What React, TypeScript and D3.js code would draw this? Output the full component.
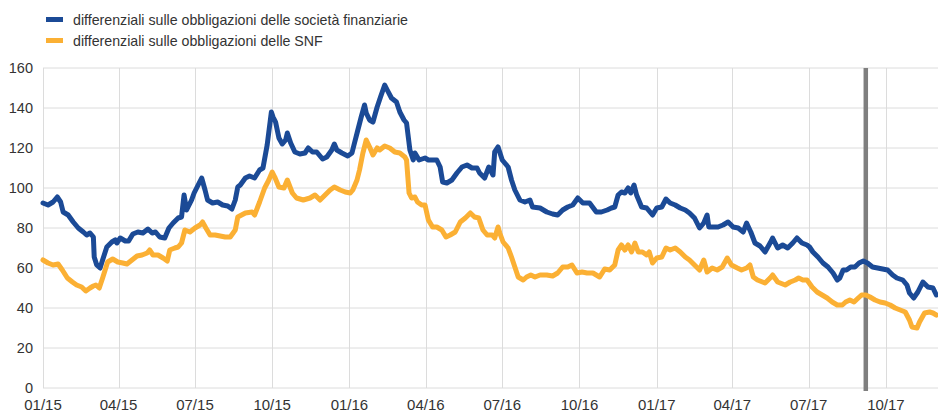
import React from "react";
import * as d3 from "d3";

const legendLabels = [
  "differenziali sulle obbligazioni delle società finanziarie",
  "differenziali sulle obbligazioni delle SNF",
];
const seriesColors = ["#1b4a96", "#fbb034"];
const yTicks = [0, 20, 40, 60, 80, 100, 120, 140, 160];
const xTickDates = [
  "2015-01-01", "2015-04-01", "2015-07-01", "2015-10-01",
  "2016-01-01", "2016-04-01", "2016-07-01", "2016-10-01",
  "2017-01-01", "2017-04-01", "2017-07-01", "2017-10-01",
];
const markerDate = "2017-09-07";
const domainDates = ["2015-01-01", "2017-12-02"];

const financialSpreads: [string, number][] = [
  ["2015-01-01", 92.5], ["2015-01-07", 91.5], ["2015-01-13", 93], ["2015-01-18", 95.5],
  ["2015-01-22", 93], ["2015-01-25", 88], ["2015-01-31", 86.5], ["2015-02-06", 83],
  ["2015-02-12", 80], ["2015-02-18", 78], ["2015-02-22", 76.5], ["2015-02-26", 77.5],
  ["2015-03-02", 75.5], ["2015-03-03", 65.5], ["2015-03-06", 61.5], ["2015-03-10", 60],
  ["2015-03-13", 64], ["2015-03-18", 70.5], ["2015-03-24", 73], ["2015-03-28", 74],
  ["2015-03-30", 72.5], ["2015-04-03", 75], ["2015-04-09", 73.5], ["2015-04-13", 73.5],
  ["2015-04-18", 77], ["2015-04-24", 78], ["2015-04-30", 77.5], ["2015-05-06", 79.5],
  ["2015-05-11", 77.5], ["2015-05-15", 78], ["2015-05-20", 75.5], ["2015-05-26", 75],
  ["2015-05-31", 80], ["2015-06-05", 82.5], ["2015-06-11", 85], ["2015-06-15", 85.5],
  ["2015-06-18", 96.5], ["2015-06-21", 89], ["2015-06-27", 94], ["2015-06-30", 97.5],
  ["2015-07-03", 100], ["2015-07-09", 105], ["2015-07-13", 99], ["2015-07-16", 94],
  ["2015-07-22", 92.5], ["2015-07-28", 93], ["2015-08-03", 91.5], ["2015-08-09", 91],
  ["2015-08-14", 89.5], ["2015-08-18", 94], ["2015-08-21", 100.5], ["2015-08-24", 101.5],
  ["2015-08-30", 105], ["2015-09-04", 106], ["2015-09-10", 105], ["2015-09-16", 109],
  ["2015-09-20", 110], ["2015-09-25", 121.5], ["2015-09-30", 138], ["2015-10-02", 135.5],
  ["2015-10-05", 133], ["2015-10-09", 125], ["2015-10-13", 122], ["2015-10-17", 124],
  ["2015-10-19", 127.5], ["2015-10-23", 122.5], ["2015-10-28", 118], ["2015-11-03", 117],
  ["2015-11-09", 117.5], ["2015-11-13", 120], ["2015-11-18", 118], ["2015-11-23", 118],
  ["2015-11-27", 116], ["2015-11-30", 114.5], ["2015-12-05", 115.5], ["2015-12-11", 119],
  ["2015-12-14", 122], ["2015-12-17", 119], ["2015-12-23", 117.5], ["2015-12-30", 116],
  ["2016-01-04", 117.5], ["2016-01-07", 122.5], ["2016-01-11", 129], ["2016-01-15", 135.5],
  ["2016-01-19", 141.5], ["2016-01-21", 137.5], ["2016-01-25", 134], ["2016-01-29", 133],
  ["2016-02-03", 140.5], ["2016-02-07", 145.5], ["2016-02-12", 151.5], ["2016-02-15", 149],
  ["2016-02-20", 145], ["2016-02-26", 143], ["2016-03-01", 138], ["2016-03-06", 134],
  ["2016-03-09", 132.5], ["2016-03-13", 119], ["2016-03-17", 114], ["2016-03-19", 117.5],
  ["2016-03-24", 114], ["2016-03-31", 115], ["2016-04-04", 114], ["2016-04-09", 114],
  ["2016-04-14", 114], ["2016-04-18", 110.5], ["2016-04-21", 103], ["2016-04-26", 102.5],
  ["2016-05-02", 104], ["2016-05-08", 107.5], ["2016-05-14", 110.5], ["2016-05-20", 111.5],
  ["2016-05-26", 110], ["2016-06-01", 110], ["2016-06-04", 107.5], ["2016-06-10", 105],
  ["2016-06-15", 110.5], ["2016-06-20", 106.5], ["2016-06-22", 118], ["2016-06-26", 120.5],
  ["2016-07-01", 114], ["2016-07-04", 112.5], ["2016-07-08", 110.5], ["2016-07-12", 104],
  ["2016-07-16", 99], ["2016-07-22", 94], ["2016-07-28", 93], ["2016-08-03", 94],
  ["2016-08-06", 90.5], ["2016-08-15", 90], ["2016-08-23", 88], ["2016-08-30", 87],
  ["2016-09-05", 86.5], ["2016-09-11", 89], ["2016-09-17", 90.5], ["2016-09-23", 91.5],
  ["2016-09-29", 95], ["2016-10-05", 92.5], ["2016-10-13", 92.5], ["2016-10-21", 88],
  ["2016-10-27", 88], ["2016-11-03", 89], ["2016-11-08", 90], ["2016-11-12", 90.5],
  ["2016-11-16", 96.5], ["2016-11-20", 98], ["2016-11-24", 97.5], ["2016-11-28", 100],
  ["2016-12-01", 97.5], ["2016-12-05", 101.5], ["2016-12-08", 96.5], ["2016-12-14", 90.5],
  ["2016-12-20", 90], ["2016-12-27", 86.5], ["2017-01-01", 90], ["2017-01-07", 90.5],
  ["2017-01-12", 94.5], ["2017-01-17", 92.5], ["2017-01-23", 91.5], ["2017-01-29", 90],
  ["2017-02-04", 89], ["2017-02-09", 87.5], ["2017-02-15", 85], ["2017-02-21", 80],
  ["2017-02-26", 82.5], ["2017-03-02", 86.5], ["2017-03-04", 80.5], ["2017-03-09", 80.5],
  ["2017-03-15", 80.5], ["2017-03-21", 81.5], ["2017-03-27", 83], ["2017-04-02", 80.5],
  ["2017-04-08", 80], ["2017-04-14", 78], ["2017-04-18", 82.5], ["2017-04-23", 78],
  ["2017-04-28", 72.5], ["2017-05-04", 71], ["2017-05-10", 68], ["2017-05-16", 72.5],
  ["2017-05-19", 75], ["2017-05-25", 70], ["2017-05-31", 71.5], ["2017-06-06", 70],
  ["2017-06-12", 72.5], ["2017-06-17", 75], ["2017-06-23", 72.5], ["2017-06-29", 71.5],
  ["2017-07-02", 70.5], ["2017-07-06", 68], ["2017-07-12", 65.5], ["2017-07-18", 62.5],
  ["2017-07-24", 60.5], ["2017-07-30", 57.5], ["2017-08-04", 54], ["2017-08-07", 55],
  ["2017-08-11", 59], ["2017-08-15", 59], ["2017-08-20", 60.5], ["2017-08-25", 60.5],
  ["2017-08-30", 62.5], ["2017-09-04", 63.5], ["2017-09-09", 62.5], ["2017-09-15", 60.5],
  ["2017-09-21", 60], ["2017-09-27", 59.5], ["2017-10-03", 59], ["2017-10-09", 56.5],
  ["2017-10-14", 55], ["2017-10-21", 54], ["2017-10-26", 51.5], ["2017-10-29", 47.5],
  ["2017-11-03", 45], ["2017-11-08", 48], ["2017-11-14", 53], ["2017-11-20", 50.5],
  ["2017-11-26", 50], ["2017-11-30", 46.5],
];

const nfcSpreads: [string, number][] = [
  ["2015-01-01", 64], ["2015-01-07", 62.5], ["2015-01-13", 61.5], ["2015-01-19", 62],
  ["2015-01-24", 59], ["2015-01-30", 55], ["2015-02-05", 53], ["2015-02-10", 51.5],
  ["2015-02-16", 50.5], ["2015-02-21", 48.5], ["2015-02-26", 50], ["2015-03-02", 51],
  ["2015-03-05", 51.5], ["2015-03-09", 50], ["2015-03-13", 55], ["2015-03-16", 59],
  ["2015-03-19", 63], ["2015-03-25", 64.5], ["2015-03-31", 63], ["2015-04-06", 62.5],
  ["2015-04-11", 62], ["2015-04-17", 64], ["2015-04-23", 66], ["2015-04-29", 66.5],
  ["2015-05-05", 67.5], ["2015-05-08", 69], ["2015-05-12", 66.5], ["2015-05-18", 66.5],
  ["2015-05-24", 65], ["2015-05-29", 63.5], ["2015-06-01", 69], ["2015-06-07", 70],
  ["2015-06-11", 70.5], ["2015-06-15", 72.5], ["2015-06-19", 79], ["2015-06-25", 78],
  ["2015-07-01", 80], ["2015-07-07", 81.5], ["2015-07-10", 83], ["2015-07-14", 80],
  ["2015-07-19", 76.5], ["2015-07-25", 76.5], ["2015-07-31", 76], ["2015-08-06", 75.5],
  ["2015-08-12", 75.5], ["2015-08-18", 79], ["2015-08-21", 85.5], ["2015-08-30", 87.5],
  ["2015-09-07", 88], ["2015-09-10", 86.5], ["2015-09-16", 93], ["2015-09-22", 100],
  ["2015-09-27", 104], ["2015-10-01", 108], ["2015-10-04", 105.5], ["2015-10-09", 100.5],
  ["2015-10-15", 100], ["2015-10-19", 104], ["2015-10-25", 97.5], ["2015-10-30", 95],
  ["2015-11-07", 94], ["2015-11-15", 95], ["2015-11-21", 96.5], ["2015-11-27", 94],
  ["2015-12-03", 96.5], ["2015-12-09", 99], ["2015-12-14", 100.5], ["2015-12-21", 99],
  ["2015-12-27", 98], ["2016-01-02", 97.5], ["2016-01-05", 99], ["2016-01-10", 104],
  ["2016-01-13", 109], ["2016-01-17", 117.5], ["2016-01-21", 124], ["2016-01-25", 120.5],
  ["2016-01-29", 116.5], ["2016-02-03", 120], ["2016-02-06", 119], ["2016-02-12", 121],
  ["2016-02-18", 120], ["2016-02-24", 118], ["2016-03-01", 117.5], ["2016-03-07", 115.5],
  ["2016-03-09", 114], ["2016-03-12", 97.5], ["2016-03-15", 95], ["2016-03-19", 95.5],
  ["2016-03-22", 93], ["2016-03-27", 91.5], ["2016-03-31", 91.5], ["2016-04-04", 84],
  ["2016-04-09", 80.5], ["2016-04-14", 80.5], ["2016-04-20", 79], ["2016-04-25", 75.5],
  ["2016-04-30", 76.5], ["2016-05-06", 78], ["2016-05-12", 83], ["2016-05-18", 85],
  ["2016-05-24", 87.5], ["2016-05-29", 85.5], ["2016-06-03", 85], ["2016-06-08", 79],
  ["2016-06-13", 76.5], ["2016-06-19", 76.5], ["2016-06-22", 75], ["2016-06-26", 80.5],
  ["2016-06-28", 77.5], ["2016-07-02", 73], ["2016-07-08", 70], ["2016-07-12", 65.5],
  ["2016-07-16", 60.5], ["2016-07-20", 55.5], ["2016-07-26", 54], ["2016-07-30", 55.5],
  ["2016-08-04", 56.5], ["2016-08-09", 55.5], ["2016-08-15", 56.5], ["2016-08-23", 56.5],
  ["2016-08-30", 56], ["2016-09-05", 57.5], ["2016-09-11", 60.5], ["2016-09-17", 60.5],
  ["2016-09-22", 61.5], ["2016-09-28", 57.5], ["2016-10-04", 58], ["2016-10-10", 57.5],
  ["2016-10-17", 57.5], ["2016-10-25", 55.5], ["2016-10-31", 59.5], ["2016-11-06", 59],
  ["2016-11-12", 61.5], ["2016-11-16", 69], ["2016-11-20", 71.5], ["2016-11-24", 69],
  ["2016-11-28", 71.5], ["2016-12-02", 68], ["2016-12-06", 72.5], ["2016-12-10", 68],
  ["2016-12-15", 68], ["2016-12-20", 66.5], ["2016-12-23", 68], ["2016-12-27", 62.5],
  ["2017-01-01", 65], ["2017-01-07", 65.5], ["2017-01-12", 70], ["2017-01-17", 69],
  ["2017-01-23", 70], ["2017-01-29", 68], ["2017-02-04", 65.5], ["2017-02-09", 64],
  ["2017-02-15", 61.5], ["2017-02-21", 59], ["2017-02-26", 64], ["2017-03-02", 58],
  ["2017-03-08", 60], ["2017-03-14", 59], ["2017-03-20", 60.5], ["2017-03-26", 65],
  ["2017-03-31", 61.5], ["2017-04-07", 60], ["2017-04-12", 59], ["2017-04-18", 60],
  ["2017-04-22", 61.5], ["2017-04-26", 55.5], ["2017-05-01", 54], ["2017-05-07", 53],
  ["2017-05-10", 52.5], ["2017-05-16", 55], ["2017-05-19", 56.5], ["2017-05-25", 53],
  ["2017-06-03", 51.5], ["2017-06-09", 53], ["2017-06-15", 54], ["2017-06-19", 55],
  ["2017-06-24", 54], ["2017-06-29", 54], ["2017-07-05", 50.5], ["2017-07-11", 48],
  ["2017-07-17", 46.5], ["2017-07-23", 45], ["2017-07-29", 43], ["2017-08-04", 41.5],
  ["2017-08-10", 41.5], ["2017-08-14", 43], ["2017-08-19", 44], ["2017-08-24", 43],
  ["2017-08-29", 45], ["2017-09-02", 46.5], ["2017-09-07", 46.5], ["2017-09-12", 45.5],
  ["2017-09-18", 44], ["2017-09-24", 43], ["2017-09-30", 42.5], ["2017-10-06", 41.5],
  ["2017-10-12", 40], ["2017-10-18", 39], ["2017-10-24", 38], ["2017-10-29", 34],
  ["2017-11-01", 30.5], ["2017-11-07", 30], ["2017-11-10", 33], ["2017-11-16", 37.5],
  ["2017-11-22", 38], ["2017-11-26", 37.5], ["2017-11-30", 36.5],
];

const parse = d3.timeParse("%Y-%m-%d");
const fmt = d3.timeFormat("%m/%y");

export default function App() {
  const W = 938;
  const H = 412;
  const x = d3
    .scaleTime()
    .domain(domainDates.map((d) => parse(d) as Date))
    .range([43, 938]);
  const y = d3.scaleLinear().domain([0, 160]).range([388, 68]);
  const line = d3
    .line<[string, number]>()
    .x((d) => x(parse(d[0]) as Date))
    .y((d) => y(d[1]))
    .curve(d3.curveLinear);
  const font = "'Liberation Sans', Arial, Helvetica, sans-serif";
  const textColor = "#333333";
  const gridColor = "#dcdcdc";
  const series = [financialSpreads, nfcSpreads];
  const markerX = x(parse(markerDate) as Date);

  return (
    <svg
      width={W}
      height={H}
      style={{ position: "absolute", left: 0, top: 0, display: "block" }}
      fontFamily={font}
    >
      <rect x={0} y={0} width={W} height={H} fill="#ffffff" />
      {yTicks.map((t) => (
        <line
          key={"hy" + t}
          x1={43}
          x2={938}
          y1={y(t)}
          y2={y(t)}
          stroke={gridColor}
          strokeWidth={1}
        />
      ))}
      {xTickDates.map((d) => {
        const xx = Math.round(x(parse(d) as Date)) + 0.5;
        return (
          <line
            key={"vx" + d}
            x1={xx}
            x2={xx}
            y1={y(160)}
            y2={y(0)}
            stroke={gridColor}
            strokeWidth={1}
          />
        );
      })}
      {yTicks.map((t) => (
        <text
          key={"ty" + t}
          x={33}
          y={y(t)}
          dy="0.36em"
          textAnchor="end"
          fontSize={14.5}
          fill={textColor}
        >
          {t}
        </text>
      ))}
      {xTickDates.map((d) => (
        <text
          key={"tx" + d}
          x={x(parse(d) as Date)}
          y={410}
          textAnchor="middle"
          fontSize={15}
          fill={textColor}
        >
          {fmt(parse(d) as Date)}
        </text>
      ))}
      <line
        x1={markerX}
        x2={markerX}
        y1={y(160)}
        y2={y(0) + 3}
        stroke="#7f7f7f"
        strokeWidth={4.5}
      />
      {series.map((s, i) => (
        <path
          key={"s" + i}
          d={line(s) || ""}
          fill="none"
          stroke={seriesColors[i]}
          strokeWidth={5}
          strokeLinejoin="round"
          strokeLinecap="round"
        />
      ))}
      {legendLabels.map((l, i) => (
        <g key={"lg" + i} transform={`translate(46, ${17 + i * 21})`}>
          <rect x={0} y={0} width={17} height={5} fill={seriesColors[i]} />
          <text x={27} y={3} dy="0.36em" fontSize={14.2} fill={textColor}>
            {l}
          </text>
        </g>
      ))}
    </svg>
  );
}
